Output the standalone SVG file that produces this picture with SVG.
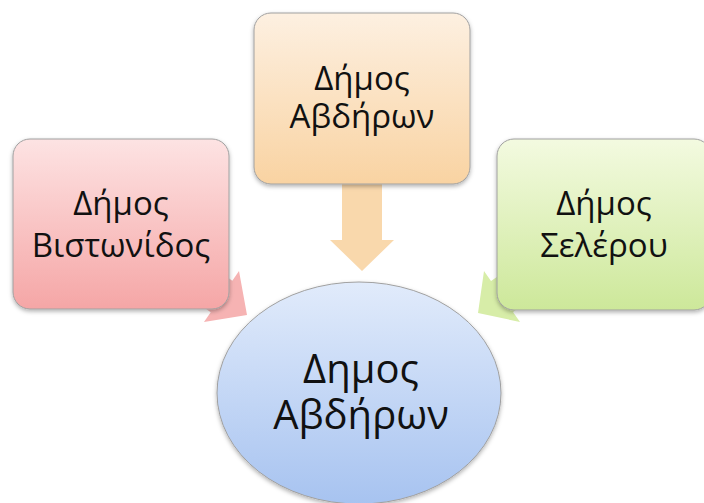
<svg xmlns="http://www.w3.org/2000/svg" width="704" height="503" viewBox="0 0 704 503">
<defs>
<linearGradient id="gPink" x1="0" y1="0" x2="0" y2="1"><stop offset="0" stop-color="#fde3e3"/><stop offset="1" stop-color="#f5a6a6"/></linearGradient>
<linearGradient id="gPeach" x1="0" y1="0" x2="0" y2="1"><stop offset="0" stop-color="#fdf0e1"/><stop offset="1" stop-color="#f9d3a2"/></linearGradient>
<linearGradient id="gGreen" x1="0" y1="0" x2="0" y2="1"><stop offset="0" stop-color="#f3fae0"/><stop offset="1" stop-color="#cde89a"/></linearGradient>
<linearGradient id="gBlue" x1="0" y1="0" x2="0" y2="1"><stop offset="0" stop-color="#e1ebfb"/><stop offset="1" stop-color="#a7c3f0"/></linearGradient>
<filter id="sh" x="-10%" y="-10%" width="120%" height="125%"><feDropShadow dx="0" dy="2" stdDeviation="2" flood-color="#000" flood-opacity="0.3"/></filter>
</defs>
<style>
.box{stroke:#a0a0a0;stroke-width:1;filter:url(#sh)}
.t{font-family:"Open Sans","Noto Sans",sans-serif;font-size:33px;fill:#111;text-anchor:middle}
.tb{font-family:"Open Sans","Noto Sans",sans-serif;font-size:40px;fill:#111;text-anchor:middle}
</style>
<rect width="704" height="503" fill="#ffffff"/>
<g id="connectors">
<polygon fill="#f6b3b3" points="110.8,192.8 232.3,280.8 239,271 247,315 204,322 210.7,312.2 89.2,224.2"/>
<polygon fill="#d7eda8" points="614.6,196 491,281 484,271 478,313 520,322 513,312 636.6,227"/>
<polygon fill="#f9d8ac" points="342,183 382,183 382,240 394,240 362,271 330,240 342,240"/>
</g>
<g id="n-vistonidos">
<rect class="box" x="13" y="139" width="216" height="170" rx="17" fill="url(#gPink)"/>
<text class="t" x="121" y="215">Δήμος</text>
<text class="t" x="121" y="257">Βιστωνίδος</text>
</g>
<g id="n-avdiron-top">
<rect class="box" x="254" y="13" width="216" height="171" rx="17" fill="url(#gPeach)"/>
<text class="t" x="362" y="90">Δήμος</text>
<text class="t" x="362" y="128">Αβδήρων</text>
</g>
<g id="n-selerou">
<rect class="box" x="497" y="139" width="214" height="171" rx="17" fill="url(#gGreen)"/>
<text class="t" x="604" y="215">Δήμος</text>
<text class="t" x="604" y="257">Σελέρου</text>
</g>
<g id="n-center">
<ellipse class="box" cx="359" cy="393" rx="142" ry="111" fill="url(#gBlue)"/>
<text class="tb" x="361" y="383">Δημος</text>
<text class="tb" x="361" y="429">Αβδήρων</text>
</g>
</svg>
